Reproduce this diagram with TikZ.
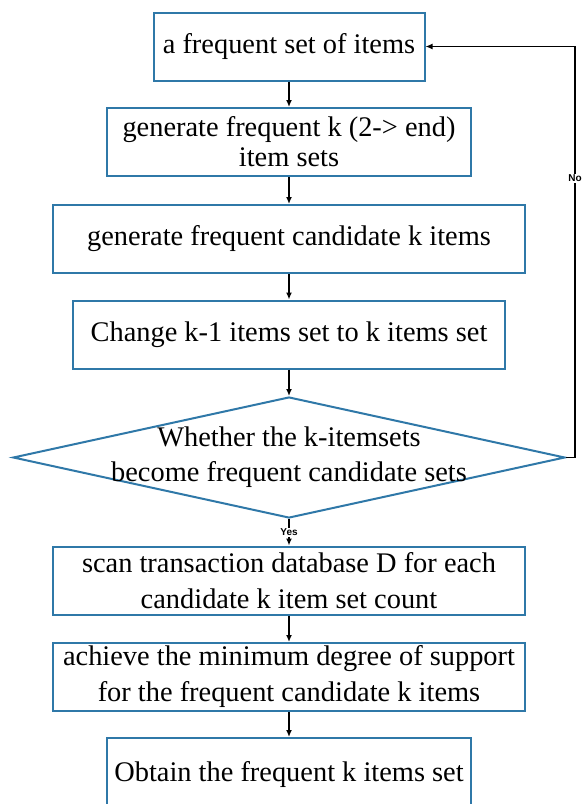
\documentclass[tikz,border=0pt]{standalone}
\usepackage{fontspec}
\setmainfont{Liberation Serif}
\newfontfamily\labelfont{Liberation Sans}
\usetikzlibrary{shapes.geometric,arrows.meta}
\definecolor{boxblue}{HTML}{2F78A8}

\begin{document}
\begin{tikzpicture}[
  x=1pt, y=-1pt,
  box/.style={draw=boxblue, fill=white, line width=2pt, minimum width=#1, minimum height=68pt, inner sep=0pt, align=center, font=\fontsize{28.4}{36}\selectfont},
  decision/.style={draw=boxblue, fill=white, line width=2pt, diamond, minimum width=552pt, minimum height=121pt, inner sep=0pt},
  flow/.style={-{Latex[length=7pt,width=6pt]}, line width=1.5pt, draw=black},
  tag/.style={font=\labelfont\bfseries\fontsize{10}{12}\selectfont, fill=white, inner sep=1pt}
]
\clip (0,0) rectangle (582,804);

\node[box=271pt] (items) at (289,46.5) {a frequent set of items};
\node[box=364pt, font=\fontsize{28.4}{30}\selectfont] (genk) at (289,142) {generate frequent k (2-> end)\\item sets};
\node[box=472pt] (gencand) at (289,239) {generate frequent candidate k items};
\node[box=432pt] (change) at (289,334.5) {Change k-1 items set to k items set};

\node[decision] (whether) at (289,457.5) {};
\node[align=center, font=\fontsize{28.4}{35}\selectfont] (whethertext) at (whether.center) {Whether the k-itemsets\\become frequent candidate sets};

\node[box=472pt] (scan) at (289,580.5) {scan transaction database D for each\\candidate k item set count};
\node[box=472pt] (support) at (289,677) {achieve the minimum degree of support\\for the frequent candidate k items};
\node[box=364pt, minimum height=74pt] (obtain) at (289,775) {Obtain the frequent k items set};

\draw[flow] (items) -- (genk);
\draw[flow] (genk) -- (gencand);
\draw[flow] (gencand) -- (change);
\draw[flow] (change) -- (whether);
\draw[flow] (whether) -- node[tag] {Yes} (scan);
\draw[flow] (scan) -- (support);
\draw[flow] (support) -- (obtain);
\draw[flow] (whether.east) -- ++(9,0) |- node[tag, pos=0.34] {No} (items.east);
\end{tikzpicture}
\end{document}
